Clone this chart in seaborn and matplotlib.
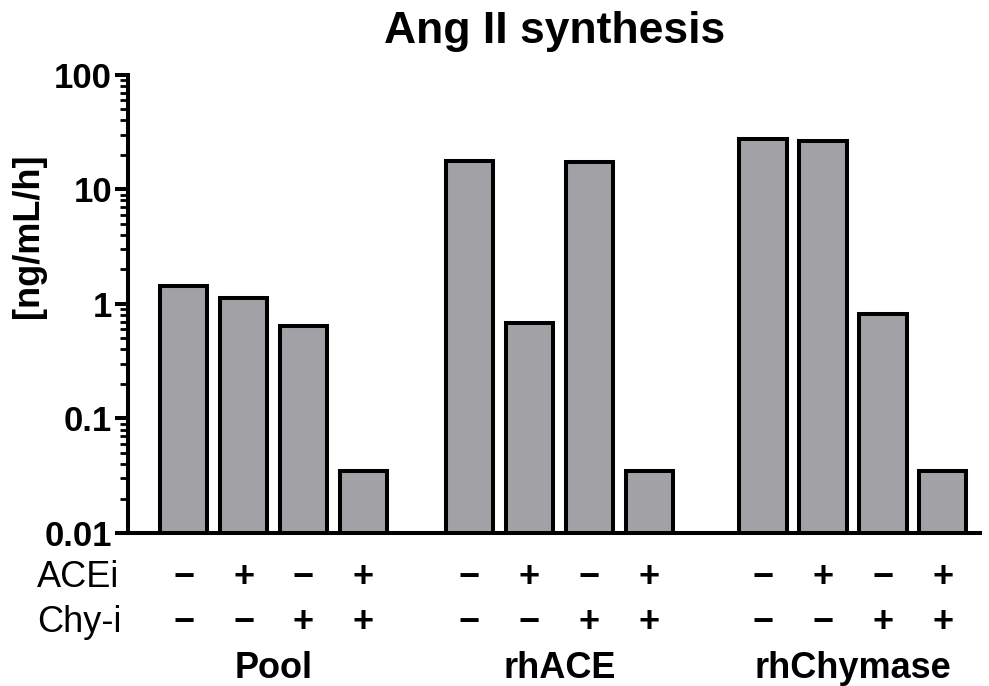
import numpy as np
import pandas as pd
import matplotlib
matplotlib.use("Agg")
import matplotlib.pyplot as plt
from matplotlib.ticker import LogLocator, NullFormatter, FixedFormatter, FixedLocator
import seaborn as sns

# data
groups = ["Pool", "rhACE", "rhChymase"]
acei = ["\u2212", "+", "\u2212", "+"]
chyi = ["\u2212", "\u2212", "+", "+"]
pool_vals = [1.44, 1.13, 0.64, 0.035]
rhace_vals = [17.5, 0.68, 17.3, 0.035]
rhchy_vals = [27.5, 26.5, 0.82, 0.035]
ytick_vals = [0.01, 0.1, 1, 10, 100]
ytick_labels = ["0.01", "0.1", "1", "10", "100"]

sns.set_style("ticks", {"axes.edgecolor": "black", "text.color": "black",
                        "axes.labelcolor": "black", "ytick.color": "black"})
plt.rcParams["font.family"] = ["Liberation Sans", "DejaVu Sans"]

# build a long table; group starts leave a gap between the groups
group_start = [0.0, 4.77, 9.67]
rows = []
for g, vals, start in zip(groups, [pool_vals, rhace_vals, rhchy_vals], group_start):
    for i, v in enumerate(vals):
        rows.append({"group": g, "pos": start + i, "value": v,
                     "acei": acei[i], "chyi": chyi[i]})
df = pd.DataFrame(rows)

fig = plt.figure(figsize=(9.89, 6.86), dpi=100)
ax = fig.add_axes([0.1294, 0.223, 0.862, 0.668])

sns.barplot(data=df, x="pos", y="value", native_scale=True, width=0.79,
            color="#a2a1a6", saturation=1, edgecolor="black", linewidth=2.9,
            errorbar=None, ax=ax)

ax.set_yscale("log")
ax.set_ylim(0.01, 100)
ax.set_xlim(-0.93, 13.3)

ax.yaxis.set_major_locator(FixedLocator(ytick_vals))
ax.yaxis.set_major_formatter(FixedFormatter(ytick_labels))
ax.yaxis.set_minor_locator(LogLocator(base=10, subs=np.arange(2, 10)))
ax.yaxis.set_minor_formatter(NullFormatter())
ax.tick_params(axis="y", which="major", length=9.5, width=2.9, labelsize=25, pad=2)
ax.tick_params(axis="y", which="minor", length=5.5, width=2.0)
for lbl in ax.get_yticklabels():
    lbl.set_fontweight("bold")

ax.set_xticks([])
ax.set_xlabel("")
ax.set_ylabel("[ng/mL/h]", fontsize=26, fontweight="bold")
ax.yaxis.set_label_coords(-0.096, 0.648)

for side in ["top", "right"]:
    ax.spines[side].set_visible(False)
for side in ["left", "bottom"]:
    ax.spines[side].set_linewidth(2.9)

ax.set_title("Ang II synthesis", fontsize=32, fontweight="bold", pad=23)

# +/- rows under the bars
tr = ax.get_xaxis_transform()
for _, r in df.iterrows():
    ax.text(r["pos"], -0.118, r["acei"], transform=tr, ha="center", va="baseline",
            fontsize=26, fontweight="bold", clip_on=False)
    ax.text(r["pos"], -0.216, r["chyi"], transform=tr, ha="center", va="baseline",
            fontsize=26, fontweight="bold", clip_on=False)

for g, start in zip(groups, group_start):
    ax.text(start + 1.5, -0.317, g, transform=tr, ha="center", va="baseline",
            fontsize=26, fontweight="bold", clip_on=False)

fig.text(37 / 989, 1 - 587 / 686, "ACEi", ha="left", va="baseline", fontsize=26)
fig.text(37 / 989, 1 - 632 / 686, "Chy-i", ha="left", va="baseline", fontsize=26)

fig.savefig("out.png", dpi=100)
